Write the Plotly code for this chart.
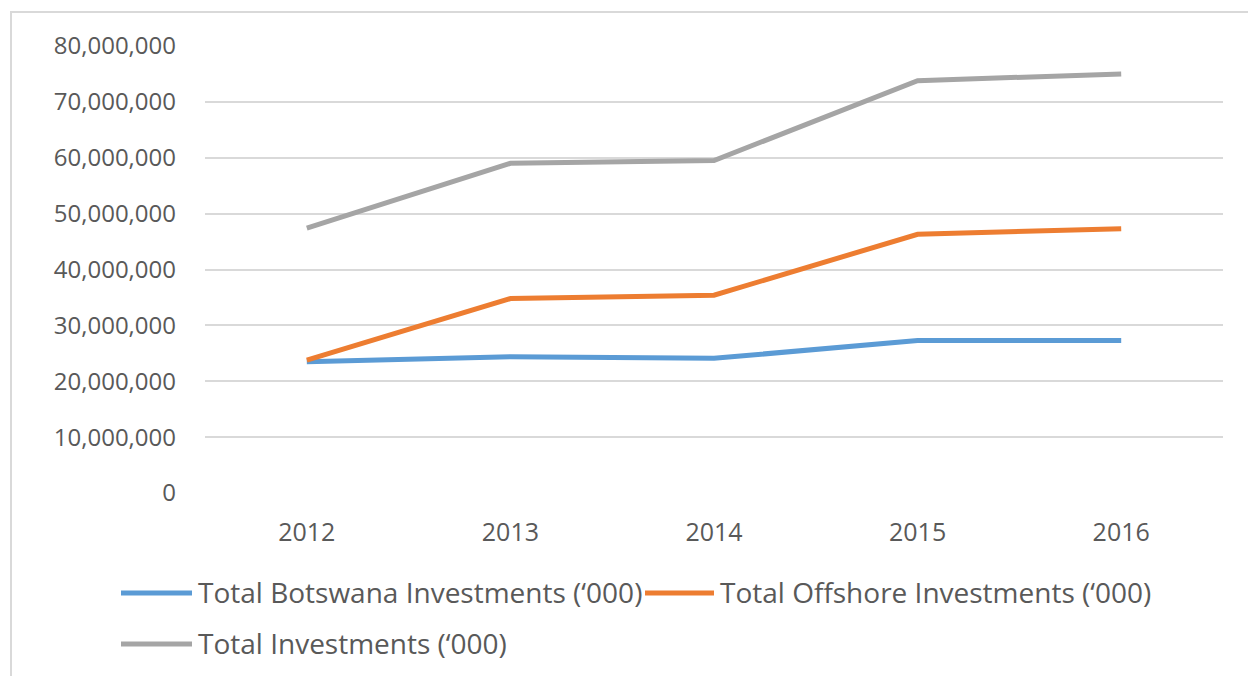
import plotly.graph_objects as go

# Investment totals by year (thousands of Pula)
years = ["2012", "2013", "2014", "2015", "2016"]
botswana = [23_500_000, 24_400_000, 24_100_000, 27_300_000, 27_300_000]
offshore = [23_800_000, 34_800_000, 35_400_000, 46_300_000, 47_300_000]
total = [47_400_000, 59_000_000, 59_500_000, 73_800_000, 75_000_000]

series_names = [
    "Total Botswana Investments (‘000)",
    "Total Offshore Investments (‘000)",
    "Total Investments (‘000)",
]
series_colors = ["#5B9BD5", "#ED7D31", "#A5A5A5"]

W, H = 1248, 676
ML, MR, MT, MB = 205, 25, 46, 183
PW, PH = W - ML - MR, H - MT - MB


def px_x(x):
    return (x - ML) / PW


def px_y(y):
    return (H - MB - y) / PH


TEXT = "#595959"
FONT = "Open Sans"

fig = go.Figure()
for name, vals, col in zip(series_names, [botswana, offshore, total], series_colors):
    fig.add_trace(go.Scatter(
        x=years, y=vals, name=name, mode="lines",
        line=dict(color=col, width=5),
        showlegend=False,
    ))

shapes = []
annotations = []

# Outer chart frame
shapes.append(dict(type="rect", xref="paper", yref="paper",
                   x0=px_x(11), x1=px_x(1260), y0=px_y(690), y1=px_y(12),
                   line=dict(color="#D9D9D9", width=2), layer="below"))

# Legend entries drawn as short line segments with labels
legend_items = [
    (series_names[0], series_colors[0], 121, 192, 593),
    (series_names[1], series_colors[1], 645, 714, 593),
    (series_names[2], series_colors[2], 121, 192, 644),
]
for name, col, x0, x1, y in legend_items:
    shapes.append(dict(type="line", xref="paper", yref="paper",
                       x0=px_x(x0), x1=px_x(x1), y0=px_y(y), y1=px_y(y),
                       line=dict(color=col, width=5)))
    annotations.append(dict(xref="paper", yref="paper",
                            x=px_x(x1 + 4), y=px_y(y - 1),
                            xanchor="left", yanchor="middle",
                            text=name, showarrow=False,
                            font=dict(family=FONT, size=28, color=TEXT)))

fig.update_layout(
    width=W, height=H,
    margin=dict(l=ML, r=MR, t=MT, b=MB),
    paper_bgcolor="white", plot_bgcolor="white",
    shapes=shapes, annotations=annotations,
    xaxis=dict(
        type="category", range=[-0.5, 4.5],
        showgrid=False, zeroline=False, showline=False, ticks="",
        tickfont=dict(family=FONT, size=25, color=TEXT),
        ticklabelstandoff=22,
    ),
    yaxis=dict(
        range=[0, 80_000_000], tick0=0, dtick=10_000_000,
        tickformat=",d",
        showgrid=True, gridcolor="#D9D9D9", gridwidth=1.5,
        zeroline=False, showline=False, ticks="",
        tickfont=dict(family=FONT, size=24, color=TEXT),
        ticklabelstandoff=28,
    ),
)

fig.write_html("out.html")
